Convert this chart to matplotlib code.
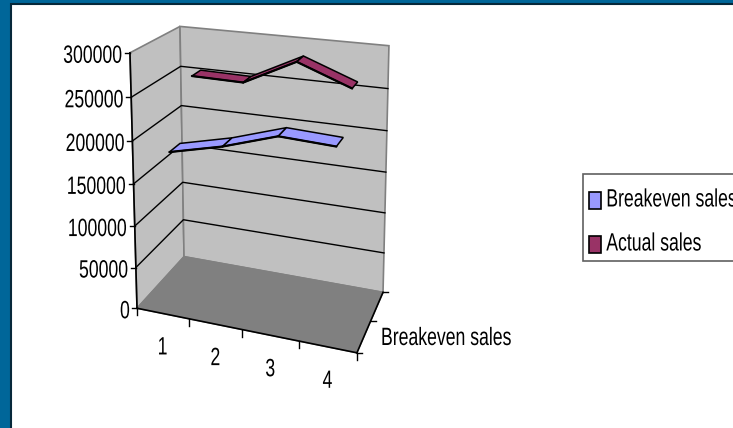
import numpy as np
import matplotlib
matplotlib.use("Agg")
import matplotlib.pyplot as plt
import matplotlib.patheffects as pe
from matplotlib.patches import Polygon, Patch, Rectangle
from matplotlib.transforms import Affine2D

categories = ["1", "2", "3", "4"]
value_ticks = [0, 50000, 100000, 150000, 200000, 250000, 300000]
depth_label = "Breakeven sales"
breakeven_sales = [182000, 197000, 217000, 214000]
actual_sales = [252000, 251000, 282000, 258000]

WIDE = 733
TALL = 428
VMAX = 300000.0
FONT_SIZE = 12.7

# wall and floor corners on the canvas: (x fraction, value fraction, depth fraction) -> pixel
corners = [
    ((0, 0, 0), (137, 308)), ((1, 0, 0), (357, 353)),
    ((0, 1, 0), (130, 52)), ((1, 1, 0), (362, 78)),
    ((0, 0, 1), (184, 257)), ((1, 0, 1), (383, 292)),
    ((0, 1, 1), (180, 27)), ((1, 1, 1), (389, 45)),
]


class TallGlyphs(pe.AbstractPathEffect):
    # stretches glyphs upward from the baseline, for the squeezed look of the labels
    def __init__(self, ratio):
        super().__init__()
        self.ratio = ratio

    def draw_path(self, renderer, gc, tpath, affine, rgbFace=None):
        renderer.draw_path(gc, tpath, Affine2D().scale(1, self.ratio) + affine, rgbFace)


tall = [TallGlyphs(1.42)]


def fit_camera(pairs):
    # plain DLT for a 3x4 projective matrix
    rows = []
    for (x, y, z), (u, v) in pairs:
        rows.append([x, y, z, 1, 0, 0, 0, 0, -u * x, -u * y, -u * z, -u])
        rows.append([0, 0, 0, 0, x, y, z, 1, -v * x, -v * y, -v * z, -v])
    _, _, vt = np.linalg.svd(np.array(rows, dtype=float))
    return vt[-1].reshape(3, 4)


camera = fit_camera(corners)


def project(x, value, depth):
    p = camera @ np.array([x, value / VMAX, depth, 1.0])
    return p[0] / p[2], p[1] / p[2]


def cat_x(i):
    return (i + 0.5) / len(categories)


def label(ax, x, y, s, ha):
    ax.text(x, y, s, ha=ha, va="baseline", fontsize=FONT_SIZE, color="black", path_effects=tall)


def ribbon(ax, values, d0, d1, color):
    for i in range(len(values) - 1):
        pts = [project(cat_x(i), values[i], d0), project(cat_x(i + 1), values[i + 1], d0),
               project(cat_x(i + 1), values[i + 1], d1), project(cat_x(i), values[i], d1)]
        ax.add_patch(Polygon(pts, closed=True, facecolor=color, edgecolor="black", lw=1.1, zorder=5))
        # heavier lower edge gives the strip its thickness
        ax.plot([pts[0][0], pts[1][0]], [pts[0][1], pts[1][1]], color="black", lw=1.6, zorder=6,
                solid_capstyle="round")


plt.rcParams["font.family"] = ["Liberation Sans", "DejaVu Sans"]
fig = plt.figure(figsize=(WIDE / 100, TALL / 100), dpi=100, facecolor="#006699")
ax = fig.add_axes([0, 0, 1, 1])
ax.set_xlim(0, WIDE)
ax.set_ylim(TALL, 0)
ax.axis("off")

# white slide panel with its dark edge
ax.add_patch(Rectangle((11, 4), WIDE, TALL, facecolor="white", edgecolor="#06283a", lw=1.5, zorder=0))

# walls and floor
left_wall = [project(0, 0, 0), project(0, VMAX, 0), project(0, VMAX, 1), project(0, 0, 1)]
back_wall = [project(0, 0, 1), project(0, VMAX, 1), project(1, VMAX, 1), project(1, 0, 1)]
floor = [project(0, 0, 0), project(1, 0, 0), project(1, 0, 1), project(0, 0, 1)]
ax.add_patch(Polygon(left_wall, facecolor="#C0C0C0", edgecolor="#808080", lw=1.2, zorder=1))
ax.add_patch(Polygon(back_wall, facecolor="#C0C0C0", edgecolor="#808080", lw=1.2, zorder=1))
ax.add_patch(Polygon(floor, facecolor="#808080", edgecolor="#808080", lw=1.0, zorder=2))

# gridlines run along the left wall then across the back wall
for v in value_ticks[1:-1]:
    a, b, c = project(0, v, 0), project(0, v, 1), project(1, v, 1)
    ax.plot([a[0], b[0], c[0]], [a[1], b[1], c[1]], color="black", lw=1.0, zorder=3)

# axis lines
for p, q in [(project(0, 0, 0), project(0, VMAX, 0)),
             (project(0, 0, 0), project(1, 0, 0)),
             (project(1, 0, 0), project(1, 0, 1))]:
    ax.plot([p[0], q[0]], [p[1], q[1]], color="black", lw=1.2, zorder=4)

# value axis ticks and labels
for v in value_ticks:
    px, py = project(0, v, 0)
    ax.plot([px - 5, px], [py, py], color="black", lw=1.0, zorder=4)
    label(ax, px - 7, py + 10, str(v), "right")

# category ticks and labels
for i in range(len(categories) + 1):
    px, py = project(i / len(categories), 0, 0)
    ax.plot([px, px], [py, py + 7], color="black", lw=1.0, zorder=4)
for i, name in enumerate(categories):
    px, py = project(cat_x(i), 0, 0)
    label(ax, px, py + 41, name, "center")

# depth ticks and label
for d in [0, 0.5, 1]:
    px, py = project(1, 0, d)
    ax.plot([px, px + 5], [py, py], color="black", lw=1.0, zorder=4)
label(ax, 381, 345, depth_label, "left")

ribbon(ax, breakeven_sales, 0.2, 0.42, "#9999FF")
ribbon(ax, actual_sales, 0.7, 0.9, "#993366")

# legend frame runs past the right edge of the slide
ax.add_patch(Rectangle((583, 174), 170, 87, facecolor="white", edgecolor="#606060", lw=1.2, zorder=7))
handles = [Patch(facecolor="#9999FF", edgecolor="black", lw=1.2, label="Breakeven sales"),
           Patch(facecolor="#993366", edgecolor="black", lw=1.2, label="Actual sales")]
leg = ax.legend(handles=handles, loc="upper left", bbox_to_anchor=(589, 192), bbox_transform=ax.transData,
                fontsize=FONT_SIZE, frameon=False,
                handlelength=0.68, handleheight=1.1, handletextpad=0.3, labelspacing=1.45,
                borderpad=0, borderaxespad=0)
leg.set_zorder(8)
for t in leg.get_texts():
    t.set_path_effects(tall)

fig.savefig("out.png", dpi=100, facecolor=fig.get_facecolor())
